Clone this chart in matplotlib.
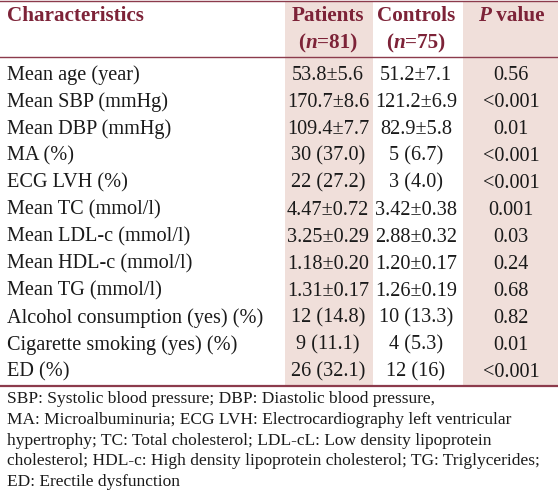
import matplotlib
matplotlib.use("Agg")
import matplotlib.pyplot as plt
from matplotlib.patches import Rectangle

# table content
characteristics = [
    "Mean age (year)", "Mean SBP (mmHg)", "Mean DBP (mmHg)", "MA (%)",
    "ECG LVH (%)", "Mean TC (mmol/l)", "Mean LDL-c (mmol/l)",
    "Mean HDL-c (mmol/l)", "Mean TG (mmol/l)", "Alcohol consumption (yes) (%)",
    "Cigarette smoking (yes) (%)", "ED (%)",
]
patients = [
    "53.8±5.6", "170.7±8.6", "109.4±7.7", "30 (37.0)", "22 (27.2)",
    "4.47±0.72", "3.25±0.29", "1.18±0.20", "1.31±0.17", "12 (14.8)",
    "9 (11.1)", "26 (32.1)",
]
controls = [
    "51.2±7.1", "121.2±6.9", "82.9±5.8", "5 (6.7)", "3 (4.0)",
    "3.42±0.38", "2.88±0.32", "1.20±0.17", "1.26±0.19", "10 (13.3)",
    "4 (5.3)", "12 (16)",
]
p_values = [
    "0.56", "<0.001", "0.01", "<0.001", "<0.001", "0.001", "0.03",
    "0.24", "0.68", "0.82", "0.01", "<0.001",
]
footnote = [
    "SBP: Systolic blood pressure; DBP: Diastolic blood pressure,",
    "MA: Microalbuminuria; ECG LVH: Electrocardiography left ventricular",
    "hypertrophy; TC: Total cholesterol; LDL-cL: Low density lipoprotein",
    "cholesterol; HDL-c: High density lipoprotein cholesterol; TG: Triglycerides;",
    "ED: Erectile dysfunction",
]

W, H = 558, 490
FONT = "Liberation Serif"
RED = "#7d2338"
LINE = "#8c3b4c"
SHADE = "#f0dfda"
FS = 14.6
FS_HEAD = 15.2
FS_NOTE = 12.5

fig = plt.figure(figsize=(W / 100, H / 100), dpi=100)
ax = fig.add_axes([0, 0, 1, 1])
ax.set_xlim(0, W)
ax.set_ylim(H, 0)
ax.axis("off")

# shaded columns
ax.add_patch(Rectangle((285, 2), 88, 384, color=SHADE, lw=0))
ax.add_patch(Rectangle((463, 2), 95, 384, color=SHADE, lw=0))

# rules
ax.plot([0, W], [1.5, 1.5], color=LINE, lw=1.0)
ax.plot([0, W], [57, 57], color=LINE, lw=1.0)
ax.plot([0, W], [386, 386], color=LINE, lw=1.6)

renderer = fig.canvas.get_renderer()


def segments(x, y, parts, size, color):
    # draw text made of (string, weight, style) pieces centred on x
    objs = []
    for s, weight, style in parts:
        objs.append(ax.text(0, y, s, fontsize=size, family=FONT, color=color,
                            weight=weight, style=style, va="center", ha="left"))
    widths = [t.get_window_extent(renderer).width for t in objs]
    cur = x - sum(widths) / 2
    for t, w in zip(objs, widths):
        t.set_x(cur)
        cur += w


col_x = [328, 416, 511]

# header
ax.text(7, 16, "Characteristics", fontsize=FS_HEAD, family=FONT, color=RED,
        weight="bold", va="center")
ax.text(col_x[0], 16, "Patients", fontsize=FS_HEAD, family=FONT, color=RED,
        weight="bold", va="center", ha="center")
ax.text(col_x[1], 16, "Controls", fontsize=FS_HEAD, family=FONT, color=RED,
        weight="bold", va="center", ha="center")
segments(col_x[2], 16, [("P", "bold", "italic"), (" value", "bold", "normal")],
         FS_HEAD, RED)
segments(col_x[0], 43, [("(", "bold", "normal"), ("n", "bold", "italic"),
                        ("=81)", "bold", "normal")], FS_HEAD, RED)
segments(col_x[1], 43, [("(", "bold", "normal"), ("n", "bold", "italic"),
                        ("=75)", "bold", "normal")], FS_HEAD, RED)

# body rows
y0, dy = 75, 27.0
for i, (c, p, k, pv) in enumerate(zip(characteristics, patients, controls, p_values)):
    y = y0 + i * dy
    ax.text(7, y, c, fontsize=FS, family=FONT, color="#1a1a1a", va="center")
    for x, s in zip(col_x, (p, k, pv)):
        ax.text(x, y, s, fontsize=FS, family=FONT, color="#1a1a1a",
                va="center", ha="center")

# footnote
for i, line in enumerate(footnote):
    ax.text(7, 399 + i * 20.8, line, fontsize=FS_NOTE, family=FONT,
            color="#1a1a1a", va="center")

fig.savefig("out.png", dpi=100, facecolor="white")
